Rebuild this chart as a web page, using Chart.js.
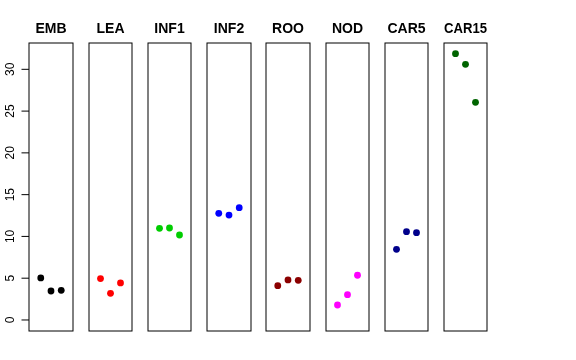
<!DOCTYPE html>
<html>
<head>
<meta charset="utf-8">
<script src="https://cdn.jsdelivr.net/npm/chart.js@4/dist/chart.umd.min.js"></script>
<style>
  body { margin: 0; background: #ffffff; }
  #wrap { position: relative; width: 576px; height: 360px; background: #ffffff; overflow: hidden; }
  #wrap canvas { position: absolute; top: 0; }
</style>
</head>
<body>
<div id="wrap"></div>
<script>
/* ===============================
   DATA
================================ */
const panelNames = ["EMB", "LEA", "INF1", "INF2", "ROO", "NOD", "CAR5", "CAR15"];
const panelColors = ["#000000", "#FF0000", "#00CD00", "#0000FF", "#8B0000", "#FF00FF", "#00008B", "#006400"];

const xPos = [1, 2, 3];

const embValues = [5.03, 3.47, 3.55];
const leaValues = [4.95, 3.19, 4.43];
const inf1Values = [10.97, 11.01, 10.17];
const inf2Values = [12.77, 12.56, 13.44];
const rooValues = [4.11, 4.79, 4.75];
const nodValues = [1.79, 3.03, 5.35];
const car5Values = [8.46, 10.57, 10.45];
const car15Values = [31.87, 30.6, 26.05];

const allValues = [embValues, leaValues, inf1Values, inf2Values, rooValues, nodValues, car5Values, car15Values];

const yTicks = [0, 5, 10, 15, 20, 25, 30];

/* ===============================
   LAYOUT
================================ */
const FONT = "'Liberation Sans', Arial, Helvetica, sans-serif";
const firstLeft = 29;
const pitch = 59.2;
const boxWidth = 44.5;
const boxTop = 43;
const boxBottom = 331;
const H = 360;

/* box + y axis drawn through the chart's own scales */
const framePlugin = {
    id: "frame",
    afterDraw(chart, args, opts) {
        const ctx = chart.ctx;
        const a = chart.chartArea;
        ctx.save();
        ctx.strokeStyle = "#000000";
        ctx.lineWidth = 1;
        ctx.strokeRect(a.left, a.top, a.right - a.left, a.bottom - a.top);

        if (opts.axis) {
            const y = chart.scales.y;
            ctx.fillStyle = "#000000";
            ctx.font = "12px " + FONT;
            ctx.textAlign = "center";
            ctx.textBaseline = "alphabetic";
            yTicks.forEach(v => {
                const py = y.getPixelForValue(v);
                ctx.beginPath();
                ctx.moveTo(a.left - 7.5, py);
                ctx.lineTo(a.left, py);
                ctx.stroke();
                ctx.save();
                ctx.translate(13.5, py);
                ctx.rotate(-Math.PI / 2);
                ctx.fillText(String(v), 0, 0);
                ctx.restore();
            });
        }
        ctx.restore();
    }
};

/* ===============================
   BUILD PANELS
================================ */
const wrap = document.getElementById("wrap");

panelNames.forEach((name, i) => {
    const boxLeft = firstLeft + i * pitch;
    const canvasLeft = i === 0 ? 0 : Math.floor(boxLeft) - 3;
    const canvasWidth = Math.ceil(boxLeft + boxWidth) + 3 - canvasLeft;

    const canvas = document.createElement("canvas");
    canvas.width = canvasWidth;
    canvas.height = H;
    canvas.style.left = canvasLeft + "px";
    wrap.appendChild(canvas);

    const padLeft = boxLeft - canvasLeft;
    const padRight = canvasWidth - padLeft - boxWidth;

    new Chart(canvas, {
        type: "scatter",
        data: {
            datasets: [{
                data: xPos.map((x, k) => ({ x: x, y: allValues[i][k] })),
                backgroundColor: panelColors[i],
                borderColor: panelColors[i],
                pointRadius: 3.4,
                borderWidth: 0
            }]
        },
        options: {
            responsive: false,
            animation: false,
            devicePixelRatio: 1,
            layout: {
                padding: { left: padLeft, right: padRight, top: 0, bottom: H - boxBottom }
            },
            scales: {
                x: { type: "linear", min: -0.15, max: 4.15, display: false },
                y: { type: "linear", min: -1.32, max: 33.15, display: false }
            },
            plugins: {
                legend: { display: false },
                tooltip: { enabled: false },
                title: {
                    display: true,
                    text: name,
                    color: "#000000",
                    fullSize: false,
                    font: { family: FONT, size: 14, weight: "bold" },
                    padding: { top: 20.6, bottom: boxTop - 20.6 - 14 * 1.2 }
                },
                frame: { axis: i === 0 }
            }
        },
        plugins: [framePlugin]
    });
});
</script>
</body>
</html>
